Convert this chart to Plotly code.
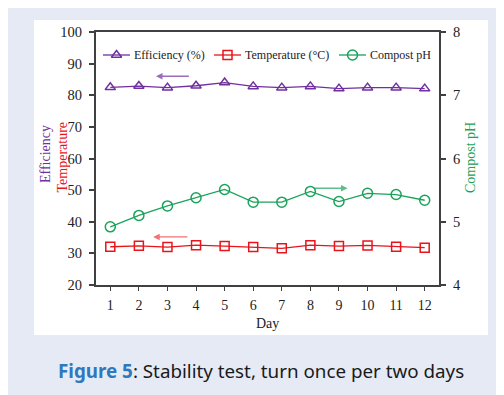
import plotly.graph_objects as go

days = list(range(1, 13))
efficiency = [82.5, 82.9, 82.4, 83.0, 84.0, 82.8, 82.4, 82.8, 82.1, 82.4, 82.4, 82.1]
temperature = [32.1, 32.4, 32.0, 32.6, 32.3, 32.0, 31.6, 32.6, 32.3, 32.5, 32.1, 31.8]
compost_ph = [4.92, 5.10, 5.25, 5.38, 5.51, 5.31, 5.31, 5.48, 5.32, 5.45, 5.43, 5.34]
series_names = ["Efficiency (%)", "Temperature (\u00b0C)", "Compost pH"]

PURPLE = "#7030a0"
RED = "#e8141b"
GREEN = "#1aa35a"
COLORS = [PURPLE, RED, GREEN]
SYMBOLS = ["triangle-up-open", "square-open", "circle-open"]
SIZES = [9, 9, 10]
SERIF = "Liberation Serif, Times New Roman, serif"
AXC = "#404040"

# figure is offset by the page's 8px body margin
W, H = 496, 387
L, R, T, B = 88, 431, 24, 277


def px(x):
    return (x - L) / (R - L)


def py(y):
    return (B - y) / (B - T)


fig = go.Figure()
for name, vals, c, s, sz, ax in zip(series_names, [efficiency, temperature, compost_ph],
                                     COLORS, SYMBOLS, SIZES, ["y", "y", "y2"]):
    fig.add_trace(go.Scatter(x=days, y=vals, name=name, mode="lines+markers", yaxis=ax,
                             line=dict(color=c, width=1.3),
                             marker=dict(symbol=s, size=sz, color=c, line=dict(width=1.5)),
                             showlegend=False))

# hand-drawn legend keys on a hidden pixel-coordinate overlay axis
leg_x0 = [95, 206, 331]
leg_y = 47
for x0, c, s, sz in zip(leg_x0, COLORS, SYMBOLS, SIZES):
    fig.add_trace(go.Scatter(x=[x0, x0 + 27], y=[leg_y, leg_y], mode="lines", xaxis="x3", yaxis="y3",
                             line=dict(color=c, width=1.3), showlegend=False, hoverinfo="skip"))
    fig.add_trace(go.Scatter(x=[x0 + 13.5], y=[leg_y], mode="markers", xaxis="x3", yaxis="y3",
                             marker=dict(symbol=s, size=sz, color=c, line=dict(width=1.5)),
                             showlegend=False, hoverinfo="skip"))

shapes = [
    dict(type="rect", xref="paper", yref="paper", x0=px(26), x1=px(480), y0=py(327), y1=py(12),
         fillcolor="white", line=dict(width=0), layer="below"),
]

annotations = [
    dict(x=2.6, y=86, ax=3.8, ay=86, xref="x", yref="y", axref="x", ayref="y", text="",
         showarrow=True, arrowhead=2, arrowsize=1, arrowwidth=1.3, arrowcolor="rgba(112,48,160,0.7)"),
    dict(x=2.5, y=35.2, ax=3.75, ay=35.2, xref="x", yref="y", axref="x", ayref="y", text="",
         showarrow=True, arrowhead=2, arrowsize=1, arrowwidth=1.3, arrowcolor="rgba(232,20,27,0.6)"),
    dict(x=9.3, y=5.53, ax=8.1, ay=5.53, xref="x", yref="y2", axref="x", ayref="y2", text="",
         showarrow=True, arrowhead=2, arrowsize=1, arrowwidth=1.3, arrowcolor="rgba(26,163,90,0.7)"),
    dict(x=px(37), y=py(146), xref="paper", yref="paper", text="Efficiency", textangle=-90,
         xanchor="center", yanchor="middle",
         showarrow=False, font=dict(family=SERIF, size=14, color=PURPLE)),
    dict(x=px(53.5), y=py(149), xref="paper", yref="paper", text="Temperature", textangle=-90,
         xanchor="center", yanchor="middle",
         showarrow=False, font=dict(family=SERIF, size=14, color=RED)),
    dict(x=px(462), y=py(150), xref="paper", yref="paper", text="Compost pH", textangle=-90,
         xanchor="center", yanchor="middle",
         showarrow=False, font=dict(family=SERIF, size=14, color=GREEN)),
    dict(x=px(259), y=py(315), xref="paper", yref="paper", text="Day",
         xanchor="center", yanchor="middle",
         showarrow=False, font=dict(family=SERIF, size=14, color="#222")),
    dict(x=px(253), y=py(363), xref="paper", yref="paper",
         text="<span style='color:#2f78bd'><b>Figure 5</b></span>: Stability test, turn once per two days",
         xanchor="center", yanchor="middle",
         showarrow=False, font=dict(family="Noto Sans", size=18.8, color="#1a1a1a")),
]
for x0, name in zip(leg_x0, series_names):
    annotations.append(dict(x=x0 + 29, y=leg_y, xref="x3", yref="y3", text=name, xanchor="left",
                            yanchor="middle", showarrow=False,
                            font=dict(family=SERIF, size=12, color="#222")))

fig.update_layout(
    width=W, height=H,
    margin=dict(l=L, r=W - R, t=T, b=H - B, pad=0),
    paper_bgcolor="#e5eaf5",
    plot_bgcolor="white",
    showlegend=False,
    xaxis=dict(range=[0.5, 12.5], tickvals=days, ticks="outside", ticklen=4, tickwidth=1.4,
               tickcolor=AXC, showline=True, linecolor=AXC, linewidth=2, mirror=True,
               showgrid=False, zeroline=False, ticklabelstandoff=2,
               tickfont=dict(family=SERIF, size=14, color="#222")),
    yaxis=dict(range=[20, 100], dtick=10, ticks="outside", ticklen=5, tickwidth=1.5,
               tickcolor=AXC, showline=True, linecolor=AXC, linewidth=2,
               showgrid=False, zeroline=False, ticklabelstandoff=4,
               tickfont=dict(family=SERIF, size=14.5, color="#222")),
    yaxis2=dict(range=[4, 8], dtick=1, overlaying="y", side="right", ticks="outside", ticklen=5,
                tickwidth=1.5, tickcolor=AXC, showline=True, linecolor=AXC, linewidth=2,
                showgrid=False, zeroline=False, ticklabelstandoff=4,
                tickfont=dict(family=SERIF, size=14.5, color="#222")),
    xaxis3=dict(range=[L, R], overlaying="x", visible=False, fixedrange=True),
    yaxis3=dict(range=[B, T], overlaying="y", visible=False, fixedrange=True),
    shapes=shapes,
    annotations=annotations,
)

fig.write_html("out.html")
